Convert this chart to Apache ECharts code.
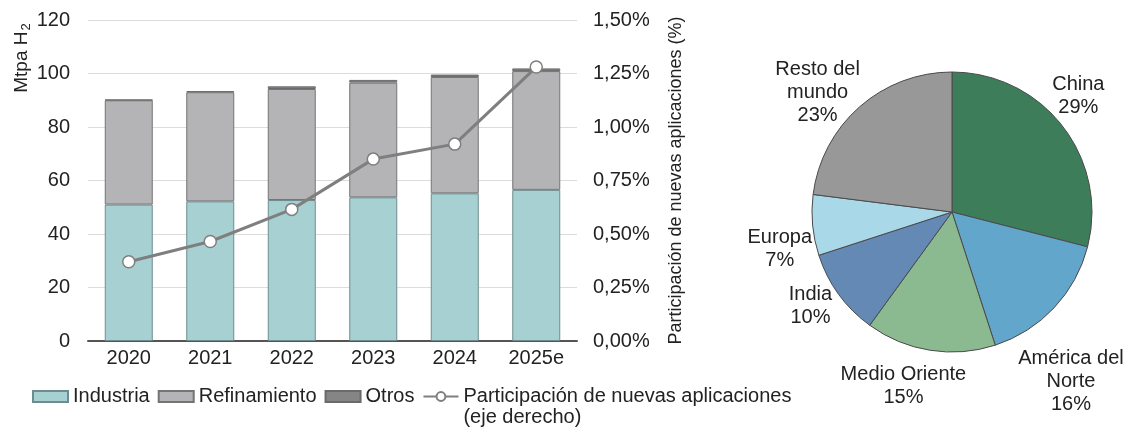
<!DOCTYPE html>
<html>
<head>
<meta charset="utf-8">
<script src="https://cdn.jsdelivr.net/npm/echarts@6/dist/echarts.min.js"></script>
<style>
  html, body { margin: 0; padding: 0; background: #fff; }
  #main { width: 1131px; height: 430px; }
</style>
</head>
<body>
<div id="main"></div>
<script>
// categorias (años)
var years = ['2020', '2021', '2022', '2023', '2024', '2025e'];
// Mtpa H2
var industria = [51, 52.2, 52.7, 53.7, 55.2, 56.5];
var refinamiento = [39, 40.8, 41.5, 42.9, 43.5, 44.4];
var otros = [0.2, 0.4, 1, 1, 0.9, 1];
// participacion de nuevas aplicaciones (%)
var participacion = [0.37, 0.465, 0.615, 0.85, 0.92, 1.28];

// reparto por region (%)
var regiones = ['China', 'América del\nNorte', 'Medio Oriente', 'India', 'Europa', 'Resto del\nmundo'];
var reparto = [29, 16, 15, 10, 7, 23];
var coloresRegion = ['#3e7d5a', '#62a6cc', '#8bba91', '#6489b4', '#a9d8e8', '#989898'];

var font = 'Liberation Sans, Arial, sans-serif';
var lineName = 'Participación de nuevas aplicaciones';

// ajuste fino de las etiquetas del pastel [dx, dy]
var ajusteEtiqueta = [[-13, -12], [-10, 53], [-17, 6], [1, -6], [2, 21], [-17, 8]];

var chart = echarts.init(document.getElementById('main'));

var pieData = regiones.map(function (n, i) {
    return { name: n, value: reparto[i], itemStyle: { color: coloresRegion[i] } };
});

option = {
    backgroundColor: '#fff',
    textStyle: { fontFamily: font },
    animation: false,
    grid: { left: 88, right: 554, top: 20, bottom: 89 },
    legend: {
        left: 27,
        top: 360,
        itemWidth: 35,
        itemHeight: 11,
        itemGap: 8,
        textStyle: { fontSize: 20, color: '#222', fontFamily: font, lineHeight: 21 },
        data: [
            { name: 'Industria', icon: 'rect' },
            { name: 'Refinamiento', icon: 'rect' },
            { name: 'Otros', icon: 'rect' },
            lineName
        ],
        formatter: function (name) {
            // linea en blanco arriba para que la primera linea quede junto al icono
            return name === lineName ? '\n' + name + '\n(eje derecho)' : name;
        }
    },
    graphic: [{
        type: 'text',
        x: 22,
        y: 58,
        rotation: Math.PI / 2,
        style: {
            text: '{a|Mtpa H}{s|2}',
            align: 'center',
            verticalAlign: 'middle',
            fill: '#222',
            rich: {
                a: { fontSize: 19, fontFamily: font, fill: '#222' },
                s: { fontSize: 13, fontFamily: font, fill: '#222', padding: [8, 0, 0, 1] }
            }
        }
    }],
    xAxis: {
        type: 'category',
        data: years,
        axisLine: { lineStyle: { color: '#555', width: 2 } },
        axisTick: { show: false },
        axisLabel: { fontSize: 20, color: '#222', margin: 7 }
    },
    yAxis: [{
        type: 'value',
        min: 0, max: 120, interval: 20,
        axisLine: { show: false },
        axisTick: { show: false },
        axisLabel: { fontSize: 20, color: '#222', margin: 18 },
        splitLine: { lineStyle: { color: '#dcdcdc', width: 1 } }
    }, {
        type: 'value',
        min: 0, max: 1.5, interval: 0.25,
        position: 'right',
        name: 'Participación de nuevas aplicaciones (%)',
        nameLocation: 'middle',
        nameRotate: 90,
        nameGap: 90,
        nameTextStyle: { fontSize: 18, color: '#222' },
        axisLine: { show: false },
        axisTick: { show: false },
        splitLine: { show: false },
        axisLabel: {
            fontSize: 20, color: '#222', margin: 16,
            formatter: function (v) { return v.toFixed(2).replace('.', ',') + '%'; }
        }
    }],
    series: [{
        name: 'Industria',
        type: 'bar',
        stack: 'h2',
        barWidth: 48,
        data: industria,
        itemStyle: { color: '#a6d0d2', borderColor: '#6e8c8d', borderWidth: 1 }
    }, {
        name: 'Refinamiento',
        type: 'bar',
        stack: 'h2',
        data: refinamiento,
        itemStyle: { color: '#b4b3b5', borderColor: '#747474', borderWidth: 1 }
    }, {
        name: 'Otros',
        type: 'bar',
        stack: 'h2',
        data: otros,
        itemStyle: { color: '#858585', borderColor: '#6a6a6a', borderWidth: 1 }
    }, {
        name: lineName,
        type: 'line',
        yAxisIndex: 1,
        data: participacion,
        symbol: 'circle',
        symbolSize: 12,
        lineStyle: { color: '#7f7f7f', width: 3 },
        itemStyle: { color: '#fff', borderColor: '#7f7f7f', borderWidth: 1.5 },
        z: 5
    }, {
        name: 'Regiones',
        type: 'pie',
        center: [952, 212],
        radius: 140,
        startAngle: 90,
        clockwise: true,
        avoidLabelOverlap: false,
        data: pieData,
        itemStyle: { borderColor: '#4a4a4a', borderWidth: 1 },
        label: {
            show: true,
            position: 'outside',
            fontSize: 20,
            lineHeight: 23,
            color: '#222',
            formatter: '{b}\n{c}%'
        },
        labelLine: { show: false, length: 30, length2: 0 },
        labelLayout: function (p) {
            var r = p.labelRect;
            var ax = p.align === 'left' ? r.x : r.x + r.width;
            var cy = r.y + r.height / 2;
            var d = ajusteEtiqueta[p.dataIndex];
            return { x: ax + d[0], y: cy + d[1], align: 'center', verticalAlign: 'middle' };
        }
    }]
};

chart.setOption(option);
window.onresize = chart.resize;
</script>
</body>
</html>
